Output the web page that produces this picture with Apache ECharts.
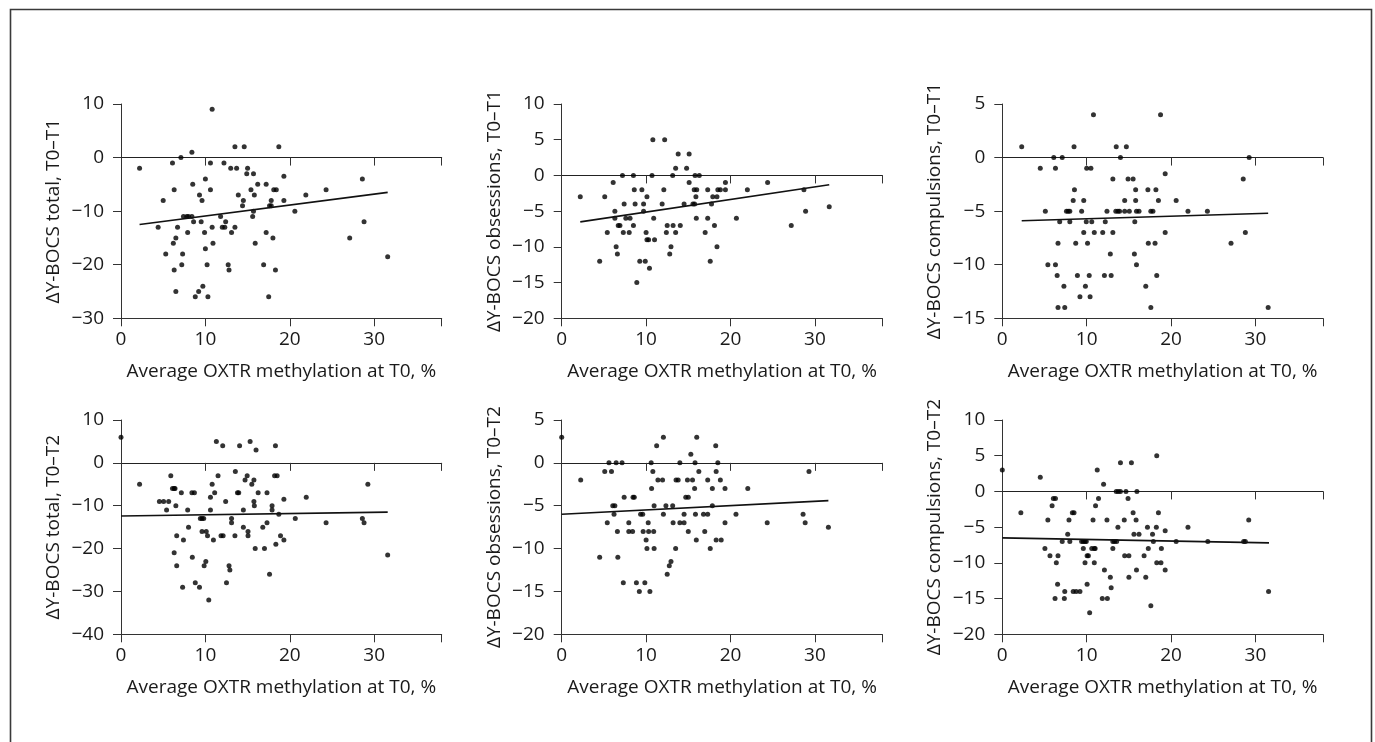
<!DOCTYPE html>
<html>
<head>
<meta charset="utf-8">
<script src="https://cdn.jsdelivr.net/npm/echarts@6/dist/echarts.min.js"></script>
<style>
html,body{margin:0;padding:0;background:#fff;}
#chart{width:1375px;height:742px;}
</style>
</head>
<body>
<div id="chart"></div>
<script>
// ---- Data ----
const xAxisTitle = 'Average OXTR methylation at T0, %';
const yTitles = [
  'ΔY-BOCS total, T0–T1', 'ΔY-BOCS obsessions, T0–T1', 'ΔY-BOCS compulsions, T0–T1',
  'ΔY-BOCS total, T0–T2', 'ΔY-BOCS obsessions, T0–T2', 'ΔY-BOCS compulsions, T0–T2'
];
const yMins = [-30, -20, -15, -40, -20, -20];
const yMaxs = [10, 10, 5, 10, 5, 10];
const yIntervals = [10, 5, 5, 10, 5, 5];
const xTicks = [0, 10, 20, 30];

const totalT1 = [[2.2,-2],[10.8,9],[13.5,2],[14.6,2],[18.7,2],[8.4,1],[7.1,0],[6.1,-1],[10.6,-1],[12.2,-1],[13.0,-2],[13.7,-2],[15.0,-2],[14.9,-3],[15.7,-3],[19.3,-3.5],[10.0,-4],[28.6,-4],[16.2,-5],[8.5,-5],[17.2,-5],[6.3,-6],[10.6,-6],[15.4,-6],[18.1,-6],[18.4,-6],[24.3,-6],[9.3,-7],[13.9,-7],[15.8,-7],[21.9,-7],[5.0,-8],[9.6,-8],[14.5,-8],[17.8,-8],[19.3,-8],[14.4,-9],[17.6,-9],[17.8,-9],[15.7,-10],[20.6,-10],[7.4,-11],[7.8,-11],[8.0,-11],[8.4,-11],[11.8,-11],[15.6,-11],[4.4,-13],[6.7,-13],[8.6,-12],[9.5,-12],[12.4,-12],[28.8,-12],[10.8,-13],[12.0,-13],[12.3,-13],[13.5,-13],[7.9,-14],[9.9,-14],[13.1,-14],[17.2,-14],[6.5,-15],[18.0,-15],[27.1,-15],[6.2,-16],[10.9,-16],[15.9,-16],[10.0,-17],[5.3,-18],[7.3,-18],[31.6,-18.5],[7.2,-20],[10.2,-20],[12.7,-20],[16.9,-20],[6.3,-21],[12.8,-21],[18.3,-21],[9.7,-24],[6.5,-25],[9.2,-25],[8.8,-26],[10.3,-26],[17.5,-26]];

const obsT1 = [[2.2,-3],[4.5,-12],[5.1,-3],[5.4,-8],[6.1,-1],[6.3,-5],[6.3,-6],[6.45,-10],[6.6,-11],[6.7,-7],[6.9,-7],[7.2,0],[7.4,-4],[7.3,-8],[7.6,-6],[8.1,-6],[8.0,-8],[8.5,0],[8.6,-2],[8.5,-7],[8.7,-4],[8.9,-15],[9.25,-12],[9.5,-2],[9.7,-4],[9.7,-5],[9.9,-12],[10.0,-8],[10.1,-3],[10.1,-9],[10.3,-9],[10.4,-13],[10.7,0],[10.8,5],[10.9,-6],[11.0,-9],[11.9,-4],[12.1,-2],[12.2,5],[12.4,-8],[12.5,-7],[12.8,-11],[12.95,-10],[13.15,0],[13.2,-7],[13.5,-8],[13.5,1],[13.8,3],[14.05,-7],[14.5,-4],[14.8,1],[15.1,3],[15.1,-1],[15.55,-4],[15.75,-4],[15.7,-2],[16.0,-2],[15.8,0],[15.9,-3],[15.95,-6],[16.3,0],[17.3,-2],[17.3,-6],[17.0,-8],[17.6,-12],[17.75,-4],[17.9,-3],[18.4,-3],[18.1,-7],[18.4,-10],[18.5,-2],[18.8,-2],[19.4,-1],[19.4,-2],[20.7,-6],[22.0,-2],[24.4,-1],[27.2,-7],[28.7,-2],[28.9,-5],[31.7,-4.4]];

const compT1 = [[2.3,1],[4.5,-1],[5.1,-5],[5.4,-10],[6.1,0],[6.3,-1],[6.3,-10],[6.5,-11],[6.6,-8],[6.6,-14],[6.8,-6],[7.1,0],[7.3,-12],[7.4,-14],[7.6,-5],[7.8,-5],[8.0,-5],[8.0,-6],[8.5,1],[8.4,-4],[8.55,-3],[8.7,-8],[8.9,-11],[9.2,-13],[9.4,-5],[9.65,-4],[9.65,-7],[9.85,-12],[10.0,-1],[10.5,-1],[9.95,-6],[10.1,-8],[10.3,-11],[10.4,-13],[10.6,-6],[10.8,4],[10.9,-7],[11.9,-7],[12.1,-11],[12.2,-6],[12.4,-5],[12.8,-9],[12.9,-11],[13.1,-2],[13.1,-7],[13.5,1],[13.45,-5],[13.7,-5],[13.9,-5],[14.0,0],[14.5,-4],[14.5,-5],[14.7,1],[14.9,-2],[15.5,-2],[15.05,-5],[15.65,-9],[15.7,-6],[15.8,-3],[15.8,-4],[15.9,-10],[15.9,-5],[16.2,-5],[17.0,-12],[17.25,-3],[17.3,-8],[17.6,-14],[17.6,-5],[17.85,-5],[18.1,-8],[18.2,-3],[18.3,-11],[18.5,-4],[18.75,4],[19.3,-7],[19.3,-1.5],[20.6,-4],[22.0,-5],[24.3,-5],[27.1,-8],[28.55,-2],[28.8,-7],[29.25,0],[31.5,-14]];

const totalT2 = [[0,6],[2.2,-5],[4.55,-9],[5.05,-9],[5.65,-9],[5.4,-11],[5.9,-3],[6.1,-6],[6.3,-6],[6.4,-6],[6.5,-10],[6.3,-21],[6.6,-17],[6.6,-24],[7.15,-7],[7.4,-18],[7.3,-29],[7.9,-11],[8.0,-15],[8.4,-7],[8.7,-7],[8.45,-22],[8.8,-28],[9.3,-29],[9.4,-13],[9.6,-13],[9.8,-13],[9.6,-16],[9.85,-24],[10.05,-23],[10.1,-16],[10.25,-17],[10.4,-32],[10.6,-8],[10.6,-11],[10.8,-5],[10.95,-18],[11.1,-7],[11.3,5],[11.5,-3],[11.85,-17],[12.1,-17],[12.05,4],[12.4,-9],[12.5,-28],[12.8,-24],[12.9,-25],[13.1,-13],[13.1,-14],[13.5,-17],[13.55,-2],[13.8,-7],[13.95,-7],[14.05,4],[14.5,-11],[14.5,-15],[14.7,-4],[14.95,-3],[15.05,-16],[15.05,-17],[15.3,5],[15.5,-5],[15.75,-4],[15.75,-9],[15.8,-10],[15.9,-20],[16.0,3],[16.25,-7],[16.8,-15],[17.0,-20],[17.3,-7],[17.3,-14],[17.6,-26],[17.9,-10],[17.9,-11],[18.2,-3],[18.5,-3],[18.3,4],[18.35,-19],[18.7,-12],[18.9,-17],[19.3,-8.5],[19.3,-18],[20.65,-13],[21.95,-8],[24.3,-14],[28.6,-13],[28.8,-14],[29.25,-5],[31.6,-21.5]];

const obsT2 = [[0,3],[2.25,-2],[4.5,-11],[5.1,-1],[5.9,-1],[5.4,-7],[5.6,0],[6.05,-5],[6.3,-5],[6.2,-6],[6.45,0],[6.6,-8],[6.65,-11],[7.15,0],[7.3,-14],[7.4,-4],[7.95,-7],[7.95,-8],[8.4,-8],[8.45,-4],[8.6,-4],[8.85,-14],[9.2,-15],[9.35,-6],[9.6,-6],[9.65,-8],[9.85,-14],[10.0,-9],[10.1,-10],[10.25,-7],[10.3,-8],[10.45,-15],[10.6,0],[10.65,-3],[10.8,-1],[10.9,-8],[10.95,-5],[10.95,-10],[11.25,2],[11.4,-2],[11.95,-2],[12.05,-6],[12.05,3],[12.35,-5],[12.5,-13],[12.75,-12],[12.95,-11.5],[13.15,-5],[13.2,-7],[13.5,-10],[13.55,-2],[13.8,-2],[14.0,0],[14.0,-7],[14.5,-7],[14.5,-6],[14.7,-4],[15.0,-4],[14.9,-2],[15.0,-8],[15.3,1],[15.5,-2],[15.75,-3],[15.8,0],[15.85,-6],[15.95,-9],[16.0,3],[16.25,-1],[16.8,-6],[17.3,-6],[16.95,-8],[17.3,-2],[17.6,-10],[17.85,-5],[17.85,-3],[18.25,2],[18.3,-1],[18.3,-9],[18.9,-9],[18.5,0],[18.8,-2],[19.35,-3],[19.35,-7],[20.65,-6],[22.05,-3],[24.35,-7],[28.6,-6],[28.85,-7],[29.3,-1],[31.6,-7.5]];

const compT2 = [[0,3],[2.2,-3],[4.5,2],[5.05,-8],[5.4,-4],[5.65,-9],[5.9,-2],[6.05,-1],[6.3,-1],[6.25,-15],[6.4,-10],[6.55,-13],[6.6,-9],[7.1,-7],[7.35,-15],[7.4,-14],[7.75,-6],[7.9,-4],[8.0,-7],[8.3,-3],[8.5,-3],[8.4,-14],[8.75,-14],[9.2,-14],[9.4,-7],[9.6,-7],[9.8,-7],[9.6,-8],[9.8,-10],[9.95,-7],[10.05,-9],[10.2,-9],[10.05,-13],[10.35,-17],[10.75,-4],[10.6,-8],[10.9,-8],[11.0,-8],[10.9,-10],[11.05,-2],[11.25,3],[11.4,-1],[11.85,-15],[12.0,1],[12.1,-11],[12.4,-4],[12.45,-15],[12.8,-12],[12.9,-13.5],[13.1,-7],[13.3,-7],[13.55,-7],[13.1,-8],[13.5,0],[13.75,0],[14.0,0],[13.7,-5],[14.0,4],[14.45,-4],[14.5,-9],[14.65,0],[14.9,-1],[15.0,-9],[15.0,-12],[15.3,4],[15.5,-3],[15.6,-6],[15.85,-4],[15.9,-11],[15.95,0],[16.2,-6],[16.8,-9],[17.0,-12],[17.2,-5],[17.3,-8],[17.6,-16],[17.8,-6],[17.9,-7],[18.25,-5],[18.3,5],[18.3,-10],[18.8,-10],[18.5,-3],[18.85,-8],[19.3,-11],[19.3,-5.5],[20.6,-7],[22.0,-5],[24.35,-7],[28.6,-7],[28.8,-7],[29.2,-4],[31.55,-14]];

// Regression lines: endpoints
const fitX = [[2.2,31.6],[2.2,31.7],[2.3,31.5],[0,31.6],[0,31.6],[0,31.6]];
const fitY = [[-12.5,-6.5],[-6.5,-1.3],[-5.9,-5.2],[-12.4,-11.5],[-6.0,-4.4],[-6.5,-7.2]];

const panelData = [totalT1, obsT1, compT1, totalT2, obsT2, compT2];

// ---- Layout ----
const FONT = 'Open Sans';
const TXT = '#1a1a1a';
const FS = 19;
const colLefts = [121, 561.7, 1002.3];
const rowTops = [104, 420];
const gridW = 320.7, gridH = 214.3;
const xMax = 38;

const minus = v => (v < 0 ? '\u2212' + Math.abs(v) : String(v));

const grids = [], xAxes = [], yAxes = [], series = [];
for (let i = 0; i < 6; i++) {
  const r = Math.floor(i / 3), c = i % 3;
  grids.push({left: colLefts[c], top: rowTops[r], width: gridW, height: gridH});
  // bottom x axis with labels
  xAxes.push({
    gridIndex: i, type: 'value', min: 0, max: xMax, interval: 10, position: 'bottom',
    name: xAxisTitle, nameLocation: 'middle', nameGap: 44,
    nameTextStyle: {fontFamily: FONT, fontSize: FS, color: TXT},
    axisLine: {onZero: false, lineStyle: {color: '#333', width: 1}},
    axisTick: {show: true, length: 8, lineStyle: {color: '#333'}},
    axisLabel: {fontFamily: FONT, fontSize: FS, color: TXT, margin: 12,
      formatter: v => (xTicks.indexOf(v) >= 0 ? String(v) : '')},
    splitLine: {show: false}
  });
  // zero line with ticks hanging below
  xAxes.push({
    gridIndex: i, type: 'value', min: 0, max: xMax, interval: 10, position: 'top',
    axisLine: {show: true, onZero: true, lineStyle: {color: '#222', width: 1}},
    axisTick: {show: true, inside: true, length: 8, lineStyle: {color: '#333'}},
    axisLabel: {show: false}, splitLine: {show: false}
  });
  yAxes.push({
    gridIndex: i, type: 'value', min: yMins[i], max: yMaxs[i], interval: yIntervals[i],
    name: yTitles[i], nameLocation: 'middle', nameGap: 58, nameRotate: 90,
    nameTextStyle: {fontFamily: FONT, fontSize: FS, color: TXT},
    axisLine: {show: true, onZero: false, lineStyle: {color: '#333', width: 1}},
    axisTick: {show: true, length: 8, lineStyle: {color: '#333'}},
    axisLabel: {fontFamily: FONT, fontSize: FS, color: TXT, margin: 17, formatter: minus},
    splitLine: {show: false}
  });
  series.push({
    type: 'scatter', xAxisIndex: 2 * i, yAxisIndex: i, data: panelData[i],
    symbol: 'circle', symbolSize: 5, itemStyle: {color: '#000'}, silent: true, z: 3
  });
  series.push({
    type: 'line', xAxisIndex: 2 * i, yAxisIndex: i,
    data: fitX[i].map((x, k) => [x, fitY[i][k]]),
    symbol: 'none', lineStyle: {color: '#111', width: 1.6}, silent: true, z: 4
  });
}

const chart = echarts.init(document.getElementById('chart'), null, {renderer: 'canvas'});
chart.setOption({
  backgroundColor: '#fff',
  animation: false,
  textStyle: {fontFamily: FONT},
  grid: grids, xAxis: xAxes, yAxis: yAxes, series: series,
  graphic: [{
    type: 'rect', left: 8, top: 7, silent: true,
    shape: {width: 1361, height: 760},
    style: {fill: 'none', stroke: '#3a3a3a', lineWidth: 1.6}
  }]
});
</script>
</body>
</html>
